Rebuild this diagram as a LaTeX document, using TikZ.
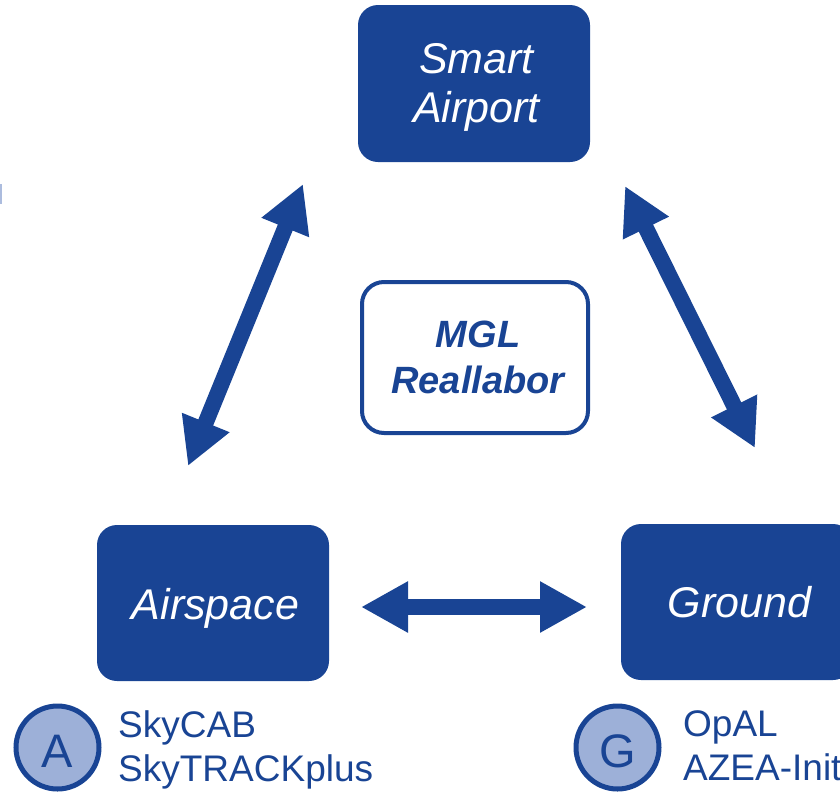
\documentclass[tikz,border=0pt]{standalone}
\usepackage{fontspec}
\setmainfont{Liberation Sans}
\usetikzlibrary{arrows.meta}
\definecolor{mglblue}{RGB}{25,68,148}
\definecolor{mgllight}{RGB}{157,176,216}

\begin{document}
\begin{tikzpicture}[x=1pt,y=-1pt,
  block/.style={rectangle, rounded corners=20pt, fill=mglblue, draw=none,
    minimum width=232pt, minimum height=156pt, inner sep=0pt},
  blocklabel/.style={text=white, font=\fontsize{43}{49}\selectfont\itshape,
    align=center, inner sep=0pt, xshift=2.5pt},
  core/.style={rectangle, rounded corners=22pt, draw=mglblue, line width=4pt,
    fill=white, minimum width=226pt, minimum height=151pt, inner sep=0pt},
  corelabel/.style={text=mglblue, font=\fontsize{38}{46}\selectfont\bfseries\itshape,
    align=center, inner sep=0pt, xshift=3pt},
  link/.style={line width=16pt, draw=mglblue,
    {Triangle[length=47pt,width=48pt]}-{Triangle[length=47pt,width=48pt]}},
  badge/.style={circle, draw=mglblue, line width=5pt, fill=mgllight,
    minimum size=83pt, inner sep=0pt, text=mglblue, text height=39pt, text depth=0pt,
    font=\fontsize{47}{47}\selectfont},
  projects/.style={text=mglblue, font=\fontsize{37}{44}\selectfont,
    align=left, inner sep=0pt, anchor=west}
]
\useasboundingbox (0,0) rectangle (840,793);
\clip (0,0) rectangle (840,793);

% faint mark at the left edge
\fill[mgllight!85] (0,184) rectangle (1.5,204);

% the three domains
\node[block, minimum height=157pt] (airport) at (474,83.5) {};
\node[blocklabel, yshift=-4pt] (airportlbl) at (airport.center) {Smart\\Airport};

\node[block] (airspace) at (213,603) {};
\node[blocklabel, yshift=-5pt] (airspacelbl) at (airspace.center) {Airspace};

\node[block] (ground) at (737,602) {};
\node[blocklabel] (groundlbl) at (ground.center) {Ground};

% centre
\node[core] (mgl) at (475,357.5) {};
\node[corelabel] (mgllbl) at (mgl.center) {MGL\\Reallabor};

% arrow end points
\coordinate (asA) at (188,466);
\coordinate (asB) at (303,184);
\coordinate (grA) at (625,186);
\coordinate (grB) at (755,448);
\coordinate (hzA) at (361,607);
\coordinate (hzB) at (587,607);

\draw[link] (asA) -- (asB);
\draw[link] (grA) -- (grB);
\draw[link] (hzA) -- (hzB);

% project badges
\node[badge] (badgeA) at (57.5,747.5) {A};
\node[projects] (projA) at (118,749.8) {SkyCAB\\SkyTRACKplus};

\node[badge] (badgeG) at (617.5,747.5) {G};
\node[projects] (projG) at (683,746) {OpAL\\AZEA-Init};
\end{tikzpicture}
\end{document}
